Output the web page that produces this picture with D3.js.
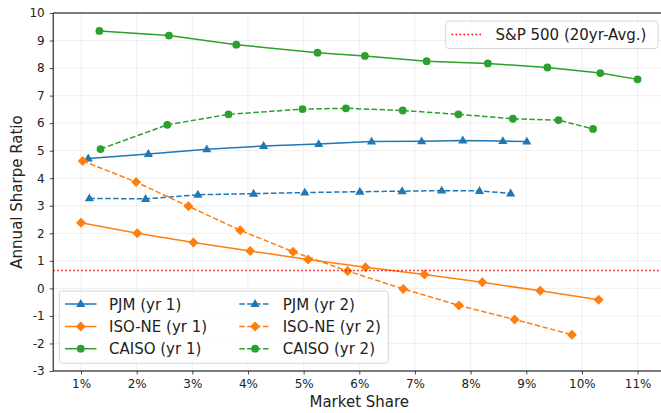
<!DOCTYPE html>
<html><head><meta charset="utf-8">
<script src="https://cdn.jsdelivr.net/npm/d3@7"></script>
<style>body{margin:0;background:#fff}svg{display:block;font-family:"DejaVu Sans",sans-serif}</style>
</head><body><svg id="c" width="661" height="413"></svg>
<script>
const xTicks = [1,2,3,4,5,6,7,8,9,10,11];
const yTicks = [-3,-2,-1,0,1,2,3,4,5,6,7,8,9,10];
const sp500 = 0.65;

const pjmYr1 = [[1.13,4.72],[2.21,4.88],[3.26,5.05],[4.28,5.17],[5.27,5.24],[6.22,5.33],[7.12,5.34],[7.86,5.37],[8.58,5.35],[9.01,5.33]];
const pjmYr2 = [[1.15,3.27],[2.16,3.25],[3.10,3.40],[4.10,3.44],[5.02,3.48],[6.01,3.51],[6.77,3.53],[7.48,3.55],[8.16,3.54],[8.72,3.45]];
const isoYr1 = [[1.0,2.38],[2.01,2.0],[3.02,1.67],[4.04,1.36],[5.08,1.05],[6.11,0.77],[7.17,0.50],[8.21,0.22],[9.25,-0.09],[10.3,-0.41]];
const isoYr2 = [[1.03,4.63],[1.99,3.86],[2.93,2.98],[3.86,2.11],[4.81,1.33],[5.79,0.63],[6.79,-0.02],[7.79,-0.62],[8.79,-1.13],[9.82,-1.68]];
const caisoYr1 = [[1.33,9.35],[2.58,9.18],[3.79,8.85],[5.25,8.56],[6.10,8.44],[7.21,8.25],[8.31,8.17],[9.38,8.02],[10.33,7.82],[11.0,7.59]];
const caisoYr2 = [[1.35,5.06],[2.55,5.94],[3.65,6.32],[4.98,6.51],[5.76,6.54],[6.78,6.46],[7.78,6.32],[8.76,6.16],[9.58,6.11],[10.2,5.79]];

const series = [
  {name:"PJM (yr 1)", data:pjmYr1, color:"#1f77b4", dash:null, marker:"tri"},
  {name:"ISO-NE (yr 1)", data:isoYr1, color:"#ff7f0e", dash:null, marker:"dia"},
  {name:"CAISO (yr 1)", data:caisoYr1, color:"#2ca02c", dash:null, marker:"circ"},
  {name:"PJM (yr 2)", data:pjmYr2, color:"#1f77b4", dash:"5.5,2.4", marker:"tri"},
  {name:"ISO-NE (yr 2)", data:isoYr2, color:"#ff7f0e", dash:"5.5,2.4", marker:"dia"},
  {name:"CAISO (yr 2)", data:caisoYr2, color:"#2ca02c", dash:"5.5,2.4", marker:"circ"}
];

const L=53.2, R=665.4, T=13, B=371;
const x = d3.scaleLinear().domain([0.5,11.5]).range([L,R]);
const y = d3.scaleLinear().domain([-3,10]).range([B,T]);
const svg = d3.select("#c");

svg.append("defs").append("clipPath").attr("id","pc").append("rect")
  .attr("x",L).attr("y",T).attr("width",R-L).attr("height",B-T);

// grid
const g = svg.append("g");
g.selectAll(".gx").data(xTicks).join("line").attr("x1",d=>x(d)).attr("x2",d=>x(d)).attr("y1",T).attr("y2",B)
  .attr("stroke","#b0b0b0").attr("stroke-opacity",0.25).attr("stroke-width",0.8);
g.selectAll(".gy").data(yTicks).join("line").attr("y1",d=>y(d)).attr("y2",d=>y(d)).attr("x1",L).attr("x2",R)
  .attr("stroke","#b0b0b0").attr("stroke-opacity",0.25).attr("stroke-width",0.8);

function markerPath(type){
  if(type==="tri") return "M0,-4.9L4.6,3L-4.6,3Z";
  if(type==="dia") return "M0,-5L5,0L0,5L-5,0Z";
  return d3.symbol(d3.symbolCircle, Math.PI*3.9*3.9)();
}

const plot = svg.append("g").attr("clip-path","url(#pc)");
const line = d3.line().x(d=>x(d[0])).y(d=>y(d[1]));
series.forEach(s=>{
  plot.append("path").attr("d",line(s.data)).attr("fill","none").attr("stroke",s.color)
    .attr("stroke-width",1.5).attr("stroke-dasharray",s.dash);
  plot.selectAll(null).data(s.data).join("path").attr("d",markerPath(s.marker))
    .attr("transform",d=>`translate(${x(d[0])},${y(d[1])})`).attr("fill",s.color);
});
plot.append("line").attr("x1",L).attr("x2",R).attr("y1",y(sp500)).attr("y2",y(sp500))
  .attr("stroke","#ff0000").attr("stroke-width",1.5).attr("stroke-dasharray","1.5,2.5");

// axes
const xa = svg.append("g").attr("transform",`translate(0,${B})`)
  .call(d3.axisBottom(x).tickValues(xTicks).tickFormat(d=>d+"%").tickSize(3.5).tickPadding(5));
const ya = svg.append("g").attr("transform",`translate(${L},0)`)
  .call(d3.axisLeft(y).tickValues(yTicks).tickFormat(d=>d).tickSize(3.5).tickPadding(5));
[xa,ya].forEach(a=>{a.select(".domain").remove();
  a.selectAll("text").attr("font-size",12).attr("fill","#222").attr("font-family","DejaVu Sans");
  a.selectAll("line").attr("stroke","#222").attr("stroke-width",0.8);});
// spines
svg.append("line").attr("x1",L).attr("x2",L).attr("y1",T).attr("y2",B).attr("stroke","#000").attr("stroke-width",1);
svg.append("line").attr("x1",L).attr("x2",R).attr("y1",B).attr("y2",B).attr("stroke","#000").attr("stroke-width",1);
svg.append("line").attr("x1",L).attr("x2",R).attr("y1",T).attr("y2",T).attr("stroke","#000").attr("stroke-width",1);

svg.append("text").attr("x",(L+R)/2).attr("y",407).attr("text-anchor","middle").attr("font-size",15).attr("fill","#222").text("Market Share");
svg.append("text").attr("transform",`translate(22,${(T+B)/2}) rotate(-90)`).attr("text-anchor","middle").attr("font-size",15).attr("fill","#222").text("Annual Sharpe Ratio");

// legend S&P
const lg1 = svg.append("g");
lg1.append("rect").attr("x",445.7).attr("y",21).attr("width",212.3).attr("height",27.5).attr("rx",3)
  .attr("fill","#fff").attr("fill-opacity",0.8).attr("stroke","#cccccc").attr("stroke-width",0.8);
lg1.append("line").attr("x1",451.5).attr("x2",482).attr("y1",34.5).attr("y2",34.5).attr("stroke","#ff0000").attr("stroke-width",1.5).attr("stroke-dasharray","1.5,2.5");
lg1.append("text").attr("x",495.5).attr("y",40).attr("font-size",15).attr("fill","#222").text("S&P 500 (20yr-Avg.)");

// legend series
const lg2 = svg.append("g");
lg2.append("rect").attr("x",59.3).attr("y",291).attr("width",329).attr("height",72.3).attr("rx",3)
  .attr("fill","#fff").attr("fill-opacity",0.8).attr("stroke","#cccccc").attr("stroke-width",0.8);
const rowY=[304,326.5,348.7], colX=[65,239.3], txtX=[109,282.7];
series.forEach((s,i)=>{
  const c=Math.floor(i/3), r=i%3;
  const yy=rowY[r];
  lg2.append("line").attr("x1",colX[c]).attr("x2",colX[c]+31.5).attr("y1",yy).attr("y2",yy)
    .attr("stroke",s.color).attr("stroke-width",1.5).attr("stroke-dasharray",s.dash);
  lg2.append("path").attr("d",markerPath(s.marker)).attr("transform",`translate(${colX[c]+15.75},${yy})`).attr("fill",s.color);
  lg2.append("text").attr("x",txtX[c]).attr("y",yy+5.5).attr("font-size",15).attr("fill","#222").text(s.name);
});
</script></body></html>
